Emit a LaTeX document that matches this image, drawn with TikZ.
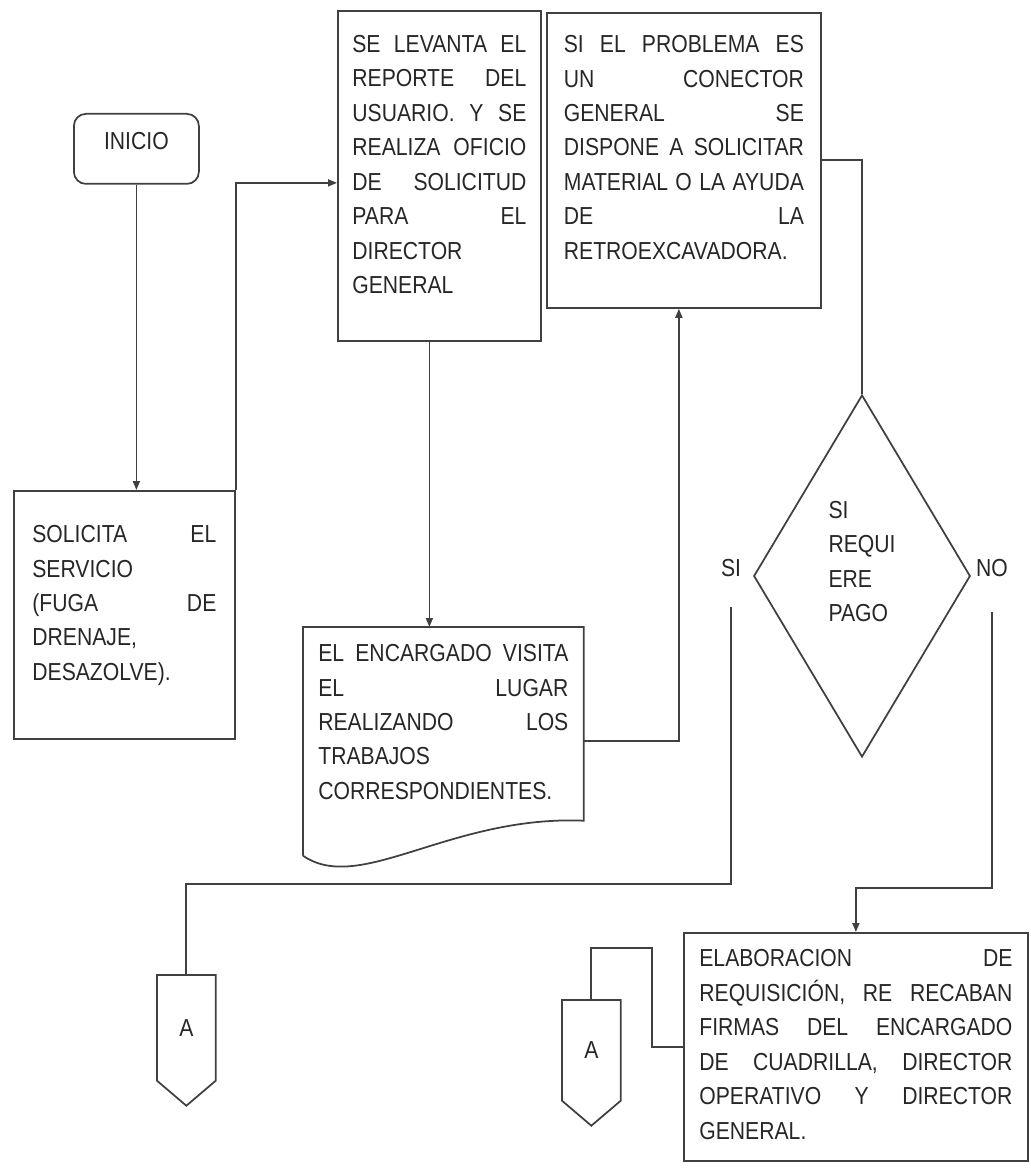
\documentclass[tikz,border=0pt]{standalone}
\usepackage{fontspec}
\setmainfont{Liberation Sans}[FakeStretch=0.86]
\usepackage{tikz}
\usetikzlibrary{arrows.meta, shapes.geometric}
\newcommand{\padb}[1]{\rule[-#1]{0pt}{0pt}}

\begin{document}
\begin{tikzpicture}[x=0.2mm, y=-0.2mm,
    font=\fontsize{14}{19.6}\selectfont,
    every node/.style={text=black!85},
    box/.style={draw=black!75, line width=0.35mm, rectangle, align=left, inner sep=0pt, anchor=north west},
    startbox/.style={box, rounded corners=2.4mm, align=center, minimum width=25mm, minimum height=14mm},
    docbox/.style={rectangle, align=left, inner sep=0pt, anchor=north west},
    decision/.style={draw=black!75, line width=0.35mm, diamond, align=left, inner sep=0pt, minimum width=41.2mm, minimum height=72.4mm},
    offpage/.style={rectangle, inner sep=0pt, anchor=north west, minimum width=11.6mm},
    lbl/.style={inner sep=0pt},
    link/.style={draw=black!75, line width=0.35mm},
    arr/.style={link, -{Triangle[length=1.8mm, width=1.4mm]}}
]
    \useasboundingbox (0,0) rectangle (1030,1168);

    \node[startbox] (inicio) at (73,113) {INICIO\padb{3mm}};
    \node[box, minimum width=44.2mm, minimum height=49.6mm, text width=36.8mm] (solicita) at (13,490) {SOLICITA\hfill EL\\SERVICIO\\(FUGA\hfill DE\\DRENAJE,\\DESAZOLVE).\padb{4.8mm}};
    \node[box, minimum width=40.6mm, minimum height=66mm, text width=34.8mm] (levanta) at (337,10) {SE\hfill LEVANTA\hfill EL\\REPORTE\hfill DEL\\USUARIO.\hfill Y\hfill SE\\REALIZA\hfill OFICIO\\DE\hfill SOLICITUD\\PARA\hfill EL\\DIRECTOR\\GENERAL\padb{4.6mm}};
    \node[box, minimum width=54.8mm, minimum height=59mm, text width=48mm] (problema) at (546,12) {SI\hfill EL\hfill PROBLEMA\hfill ES\\UN\hfill CONECTOR\\GENERAL\hfill SE\\DISPONE\hfill A\hfill SOLICITAR\\MATERIAL\hfill O\hfill LA\hfill AYUDA\\DE\hfill LA\\RETROEXCAVADORA.\padb{5.2mm}};
    \node[docbox, minimum width=56mm, minimum height=45.6mm, text width=50mm] (encargado) at (303,627) {EL\hfill ENCARGADO\hfill VISITA\\EL\hfill LUGAR\\REALIZANDO\hfill LOS\\TRABAJOS\\CORRESPONDIENTES.\padb{7.8mm}};
    \draw[link] (encargado.south west) |- (encargado.north east) -- ([yshift=7mm]encargado.south east) .. controls (450,815) and (360,895) .. (encargado.south west);
    \node[decision] (pago) at (862,576) {SI\\REQUI\\ERE\\PAGO\padb{5.8mm}};
    \node[lbl] (si) at (731,568) {SI};
    \node[lbl] (no) at (992,568) {NO};
    \node[box, minimum width=68.8mm, minimum height=45.6mm, text width=62.6mm] (elab) at (683,932) {ELABORACION\hfill DE\\REQUISICIÓN,\hfill RE\hfill RECABAN\\FIRMAS\hfill DEL\hfill ENCARGADO\\DE\hfill CUADRILLA,\hfill DIRECTOR\\OPERATIVO\hfill Y\hfill DIRECTOR\\GENERAL.\padb{1mm}};
    \node[offpage, minimum height=21mm] (a1) at (157,975) {A};
    \node[offpage, minimum height=20mm] (a2) at (562,1000) {A};
    \foreach \c in {a1,a2}
        \draw[link] (\c.south west) |- (\c.north east) -- (\c.south east) -- ([yshift=-5mm]\c.south) -- cycle;

    \coordinate (sibend) at (731,884);
    \coordinate (nobend) at (992,888);

    \draw[arr] (inicio.south) -- (inicio.south |- solicita.north);
    \draw[arr] (solicita.north east) |- ([yshift=-1.4mm]levanta.west);
    \draw[arr] ([xshift=-2mm]levanta.south) -- ([xshift=-2mm]levanta.south |- encargado.north);
    \draw[arr] (encargado.east) -| ([xshift=-1mm]problema.south);
    \draw[link] (problema.east) -| (pago.north);
    \draw[link] ([yshift=-6mm]si.south) -- (sibend) -| (a1.north);
    \draw[arr] ([yshift=-7mm]no.south) -- (nobend) -| (elab.north);
    \draw[link] (a2.north) -- ++(0,-52) -| ([xshift=-6.2mm]elab.west) -- (elab.west);
\end{tikzpicture}
\end{document}
